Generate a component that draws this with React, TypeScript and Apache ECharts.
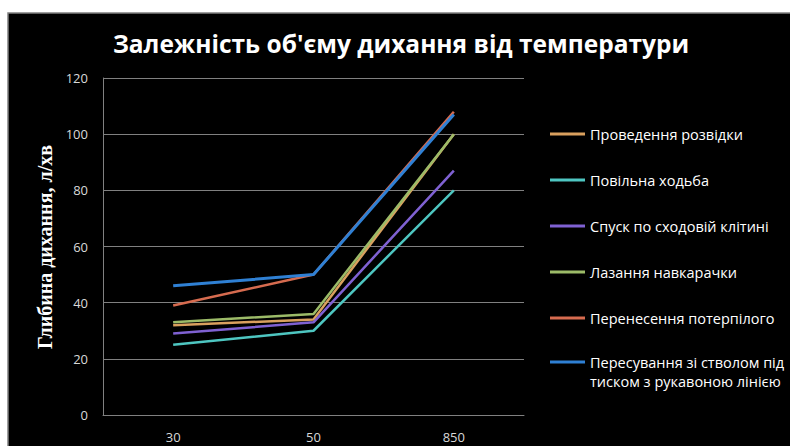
import React, { useEffect, useRef } from "react";
import * as echarts from "echarts";

const categories = ["30", "50", "850"];

const seriesNames = [
  "Проведення розвідки",
  "Повільна ходьба",
  "Спуск по сходовій клітині",
  "Лазання навкарачки",
  "Перенесення потерпілого",
  "Пересування зі стволом під тиском з рукавоною лінією",
];

const reconValues = [32, 34, 100];
const slowWalkValues = [25, 30, 80];
const stairsValues = [29, 33, 87];
const crawlValues = [33, 36, 100];
const carryValues = [39, 50, 108];
const hoseValues = [46, 50, 107];

const seriesValues = [reconValues, slowWalkValues, stairsValues, crawlValues, carryValues, hoseValues];

const seriesColors = ["#d9a05e", "#4ec6c1", "#7f61d2", "#9cbb68", "#d66b4f", "#2f80d4"];

const yTicks = [0, 20, 40, 60, 80, 100, 120];

const titleText = "Залежність об'єму дихання від температури";
const yAxisTitle = "Глибина дихання, л/хв";

export default function App() {
  const ref = useRef<HTMLDivElement>(null);

  useEffect(() => {
    if (!ref.current) return;
    const chart = echarts.init(ref.current, undefined, { renderer: "svg" });
    const font = "'Open Sans', 'Noto Sans', sans-serif";

    const series = seriesNames.map((name, i) => ({
      name,
      type: "line" as const,
      data: seriesValues[i],
      symbol: "none",
      z: i === 5 ? 3 : 2,
      lineStyle: { color: seriesColors[i], width: i === 5 ? 3 : 2.5 },
      itemStyle: { color: seriesColors[i] },
    }));

    chart.setOption({
      animation: false,
      backgroundColor: "#ffffff",
      graphic: [
        {
          type: "rect",
          z: -10,
          shape: { x: 8, y: 13, width: 800, height: 450 },
          style: { fill: "#000000", stroke: "#808080", lineWidth: 1.5 },
        },
        {
          type: "text",
          x: 401,
          y: 43,
          style: {
            text: titleText,
            fill: "#ffffff",
            font: `bold 24.5px ${font}`,
            align: "center",
            verticalAlign: "middle",
          },
        },
        {
          type: "text",
          x: 45,
          y: 247,
          rotation: Math.PI / 2,
          style: {
            text: yAxisTitle,
            fill: "#ffffff",
            font: "bold 20px 'Liberation Serif', 'DejaVu Serif', serif",
            align: "center",
            verticalAlign: "middle",
          },
        },
      ],
      grid: { left: 103, right: 266, top: 78, bottom: 31, containLabel: false },
      xAxis: {
        type: "category",
        data: categories,
        boundaryGap: true,
        axisLine: { show: true, lineStyle: { color: "#808080", width: 1 } },
        axisTick: { show: false },
        axisLabel: { color: "#d9d9d9", fontFamily: font, fontSize: 13, margin: 15 },
      },
      yAxis: {
        type: "value",
        min: yTicks[0],
        max: yTicks[yTicks.length - 1],
        interval: 20,
        axisLine: { show: true, lineStyle: { color: "#808080", width: 1 } },
        axisTick: { show: false },
        splitLine: { show: true, lineStyle: { color: "#808080", width: 1 } },
        axisLabel: { color: "#d9d9d9", fontFamily: font, fontSize: 13, margin: 15 },
      },
      legend: [
        {
          orient: "vertical",
          left: 550,
          top: 126,
          padding: 0,
          itemGap: 30,
          itemWidth: 35,
          itemHeight: 3,
          icon: "rect",
          data: seriesNames.slice(0, 5),
          textStyle: { color: "#ffffff", fontFamily: font, fontSize: 14.5, lineHeight: 16 },
        },
        {
          orient: "vertical",
          left: 550,
          top: 333.5,
          padding: 0,
          itemWidth: 35,
          itemHeight: 3,
          icon: "rect",
          data: [seriesNames[5]],
          // leading empty line keeps the icon level with the first text line
          formatter: () => "\nПересування зі стволом під\nтиском з рукавоною лінією",
          textStyle: {
            color: "#ffffff",
            fontFamily: font,
            fontSize: 14.5,
            lineHeight: 19,
          },
        },
      ],
      series,
    });

    return () => chart.dispose();
  }, []);

  return (
    <div
      ref={ref}
      style={{ position: "fixed", left: 0, top: 0, width: 790, height: 446 }}
    />
  );
}
